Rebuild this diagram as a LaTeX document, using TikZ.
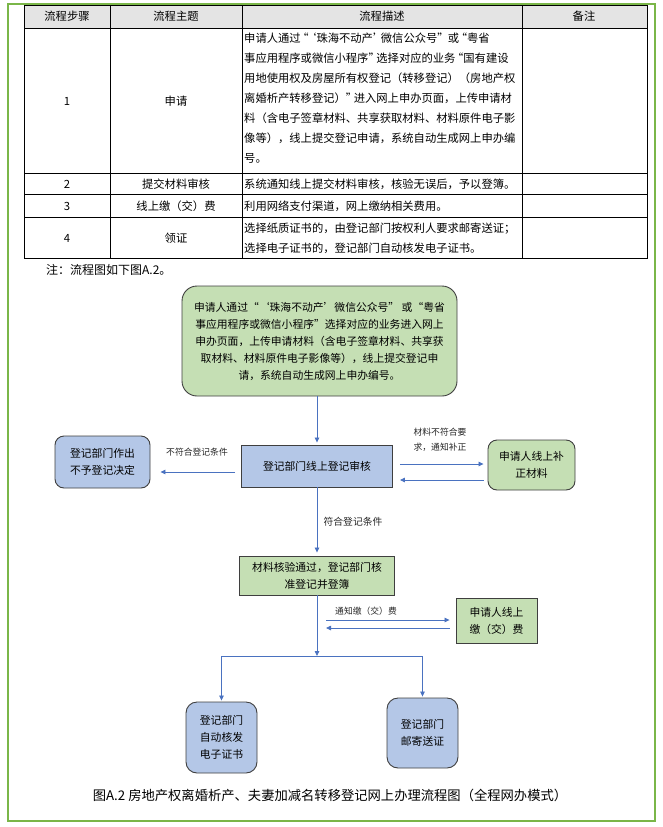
\documentclass[tikz,border=0pt]{standalone}
\usepackage{fontspec}
\setmainfont{Noto Sans CJK SC}
\newcommand\fwo[1]{\makebox[0.7em][r]{#1}}
\newcommand\fwc[1]{\makebox[0.7em][l]{#1}}
\usetikzlibrary{arrows.meta,calc}
\definecolor{frameg}{HTML}{7AB648}
\definecolor{gfill}{HTML}{C5DFB4}
\definecolor{bfill}{HTML}{B4C7E7}
\definecolor{hdr}{HTML}{E4E4E4}
\definecolor{lnk}{HTML}{4A72C0}
\definecolor{bd}{HTML}{3F3F3F}
\begin{document}
\begin{tikzpicture}[x=1pt,y=-1pt,
  tx/.style={font=\fontsize{11.3}{20}\selectfont, inner sep=0},
  box/.style={draw=bd, line width=0.9pt, align=center, inner sep=0, font=\fontsize{10.8}{17}\selectfont},
  gbox/.style={box, fill=gfill},
  bbox/.style={box, fill=bfill},
  link/.style={draw=lnk, line width=0.8pt},
  conn/.style={link, -{Triangle[length=5pt,width=4.5pt]}},
  lab/.style={font=\fontsize{8.8}{15}\selectfont, align=center, inner sep=1pt, text=black!85}
]
\useasboundingbox (0,0) rectangle (662,827);
\draw[frameg, line width=1.3pt] (8,4) rectangle (655,821);
% table
\fill[hdr] (24,5) rectangle (647,28);
\draw[black, line width=0.8pt] (24,5) rectangle (647,258);
\foreach \yy in {28,173,194,217} \draw[black, line width=0.8pt] (24,\yy) -- (647,\yy);
\foreach \xx in {110,242,522} \draw[black, line width=0.8pt] (\xx,5) -- (\xx,258);
\node[tx] (h1) at (67,16.5) {流程步骤};
\node[tx] (h2) at (176,16.5) {流程主题};
\node[tx] (h3) at (382,16.5) {流程描述};
\node[tx] (h4) at (584,16.5) {备注};
\node[tx] (n1) at (67,101) {1};
\node[tx] (t1) at (176,101) {申请};
\node[tx, anchor=north west, align=left] (d1) at (244,33) {申请人通过\fwo{“}\fwo{‘}珠海不动产\fwc{’}微信公众号\fwc{”} 或\fwo{“}粤省\\事应用程序或微信小程序\fwc{”}选择对应的业务\fwo{“}国有建设\\用地使用权及房屋所有权登记（转移登记）（房地产权\\离婚析产转移登记）\fwc{”}进入网上申办页面，上传申请材\\料（含电子签章材料、共享获取材料、材料原件电子影\\像等），线上提交登记申请，系统自动生成网上申办编\\号。};
\node[tx] (n2) at (67,184) {2};
\node[tx] (t2) at (176,184) {提交材料审核};
\node[tx, anchor=west] (d2) at (244,184) {系统通知线上提交材料审核，核验无误后，予以登簿。};
\node[tx] (n3) at (67,206) {3};
\node[tx] (t3) at (176,206) {线上缴（交）费};
\node[tx, anchor=west] (d3) at (244,206) {利用网络支付渠道，网上缴纳相关费用。};
\node[tx] (n4) at (67,238) {4};
\node[tx] (t4) at (176,238) {领证};
\node[tx, anchor=west, align=left] (d4) at (244,238) {选择纸质证书的，由登记部门按权利人要求邮寄送证；\\选择电子证书的，登记部门自动核发电子证书。};
\node[tx, anchor=west, font=\fontsize{12}{14}\selectfont] (note) at (46,270) {注：流程图如下图A.2。};
% flowchart
\node[gbox, rounded corners=15pt, minimum width=275pt, minimum height=110pt] (A) at (319.5,341)
 {申请人通过“‘珠海不动产’微信公众号” 或“粤省\\事应用程序或微信小程序”选择对应的业务进入网上\\申办页面，上传申请材料（含电子签章材料、共享获\\取材料、材料原件电子影像等），线上提交登记申\\请，系统自动生成网上申办编号。};
\node[bbox, minimum width=151pt, minimum height=42pt] (B) at (317,466) {登记部门线上登记审核};
\node[bbox, rounded corners=9pt, minimum width=95pt, minimum height=52pt] (C) at (102.5,462) {登记部门作出\\不予登记决定};
\node[gbox, rounded corners=9pt, minimum width=87pt, minimum height=50pt] (D) at (531.5,465) {申请人线上补\\正材料};
\node[gbox, minimum width=155pt, minimum height=39pt] (E) at (317,575.5) {材料核验通过，登记部门核\\准登记并登簿};
\node[gbox, minimum width=81pt, minimum height=45pt] (F) at (496.5,620.5) {申请人线上\\缴（交）费};
\node[bbox, rounded corners=11pt, minimum width=71pt, minimum height=71pt] (G) at (221.5,737.5) {登记部门\\自动核发\\电子证书};
\node[bbox, rounded corners=11pt, minimum width=71pt, minimum height=70pt] (H) at (422.5,733) {登记部门\\邮寄送证};
% connectors
\draw[conn, shorten >=2pt] (A.south -| B.north) -- (B.north);
\coordinate (bl) at ($(B.west)+(-6,6)$);
\draw[conn, shorten >=10pt] (bl) -- (C.east |- bl);
\node[lab] (lc) at (197,452) {不符合登记条件};
\coordinate (br1) at ($(B.east)+(7,-2)$);
\coordinate (br2) at ($(B.east)+(7,14)$);
\draw[conn, shorten >=4pt] (br1) -- (D.west |- br1);
\draw[conn, shorten <=4pt] (D.west |- br2) -- (br2);
\node[lab] (ld) at (440,440) {材料不符合要\\求，通知补正};
\draw[conn, shorten >=3pt] (B.south) -- (E.north);
\node[lab, font=\fontsize{9.8}{14}\selectfont] (le) at (353,522) {符合登记条件};
\coordinate (e1) at (326,620);
\coordinate (e2) at (326,628);
\draw[conn, shorten >=6pt] (e1) -- (F.west |- e1);
\draw[conn, shorten <=6pt] (F.west |- e2) -- (e2);
\node[lab] (lf) at (366,611) {通知缴（交）费};
\coordinate (j) at (317,656);
\coordinate (jl) at (G.north |- j);
\coordinate (jr) at (H.north |- j);
\draw[conn] (E.south) -- (j);
\draw[link] (jl) -- (jr);
\draw[conn, shorten >=1pt] (jl) -- (G.north);
\draw[conn, shorten >=1pt] (jr) -- (H.north);
\node[font=\fontsize{13.3}{15}\selectfont, inner sep=0] (cap) at (330,795) {图A.2 房地产权离婚析产、夫妻加减名转移登记网上办理流程图（全程网办模式）};
\end{tikzpicture}
\end{document}
